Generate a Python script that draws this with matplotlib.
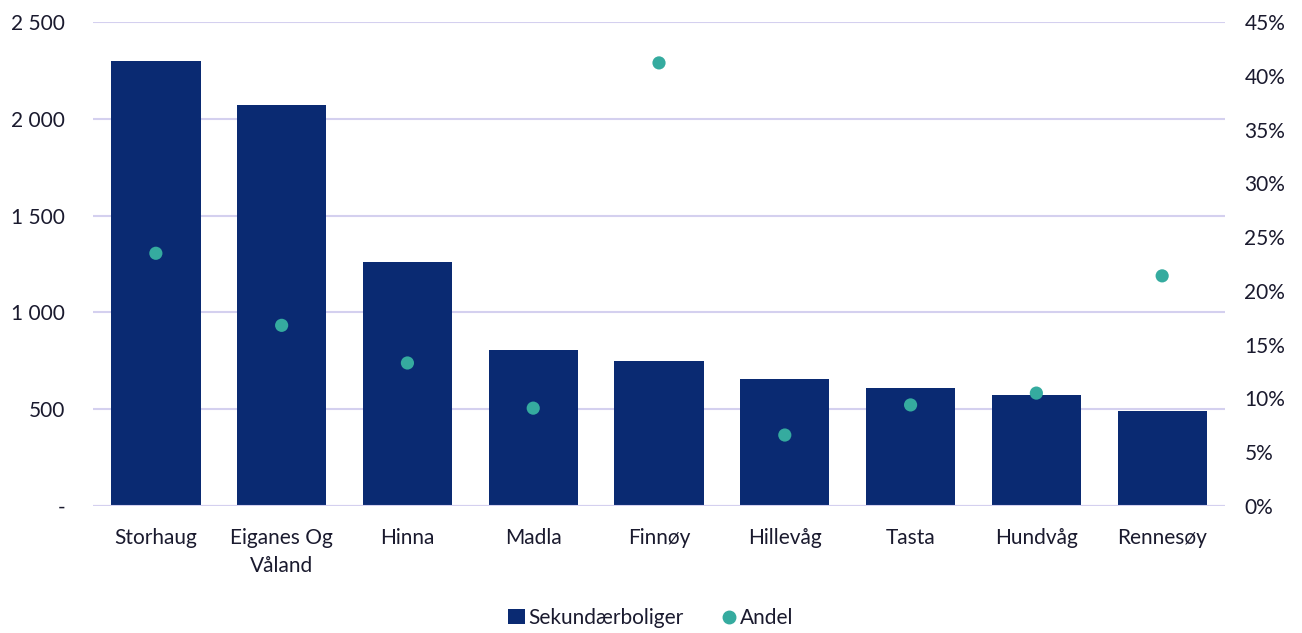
import numpy as np
import matplotlib as mpl
mpl.use('Agg')
import matplotlib.pyplot as plt
from matplotlib.ticker import FuncFormatter, PercentFormatter
from matplotlib.lines import Line2D
from matplotlib.patches import Patch

# data
categories = ['Storhaug', 'Eiganes Og\nVåland', 'Hinna', 'Madla', 'Finnøy',
              'Hillevåg', 'Tasta', 'Hundvåg', 'Rennesøy']
sekundaerboliger = [2300, 2070, 1260, 805, 750, 655, 608, 572, 490]
andel = [23.5, 16.8, 13.3, 9.1, 41.2, 6.6, 9.4, 10.5, 21.4]

bar_color = '#0a2a72'
dot_color = '#35ab9f'
grid_color = '#d4d0ef'
text_color = '#1a1a2e'
fsize = 15

plt.rcParams['font.family'] = ['Lato', 'DejaVu Sans']
plt.rcParams['font.size'] = fsize

fig = plt.figure(figsize=(13.02, 6.33), dpi=100)
ax = fig.add_axes([0.0714, 0.2006, 0.8695, 0.7646])
ax2 = ax.twinx()

x = np.arange(len(categories))

ax.set_axisbelow(True)
ax.yaxis.grid(True, color=grid_color, linewidth=1.5)
ax.bar(x, sekundaerboliger, width=0.71, color=bar_color, zorder=2)
ax.axhline(0, color=grid_color, linewidth=1.5, zorder=3)

ax.set_ylim(0, 2500)
ax.set_yticks(np.arange(0, 2501, 500))


def thousands(v, pos):
    if v == 0:
        return '-'
    return '{:,.0f}'.format(v).replace(',', ' ')


ax.yaxis.set_major_formatter(FuncFormatter(thousands))
ax.set_xlim(-0.5, len(categories) - 0.5)
ax.set_xticks(x)
ax.set_xticklabels(categories, linespacing=1.5)

ax2.scatter(x, andel, s=90, color=dot_color, zorder=4, edgecolors='none')
ax2.set_ylim(0, 45)
ax2.set_yticks(np.arange(0, 46, 5))
ax2.yaxis.set_major_formatter(PercentFormatter(decimals=0))

for a in (ax, ax2):
    for s in a.spines.values():
        s.set_visible(False)
    a.tick_params(length=0, colors=text_color, labelsize=fsize)
ax.tick_params(axis='y', pad=20)
ax.tick_params(axis='x', pad=16)
ax2.tick_params(axis='y', pad=14)
for lbl in ax.get_yticklabels():
    lbl.set_horizontalalignment('right')

handles = [Patch(facecolor=bar_color, label='Sekundærboliger'),
           Line2D([], [], marker='o', linestyle='none', color=dot_color,
                  markersize=9, label='Andel')]
fig.legend(handles=handles, loc='center', bbox_to_anchor=(0.5, 0.024),
           ncol=2, frameon=False, fontsize=fsize, handlelength=0.8,
           handletextpad=0.15, columnspacing=1.8, labelcolor=text_color)

fig.savefig('out.png', dpi=100)
